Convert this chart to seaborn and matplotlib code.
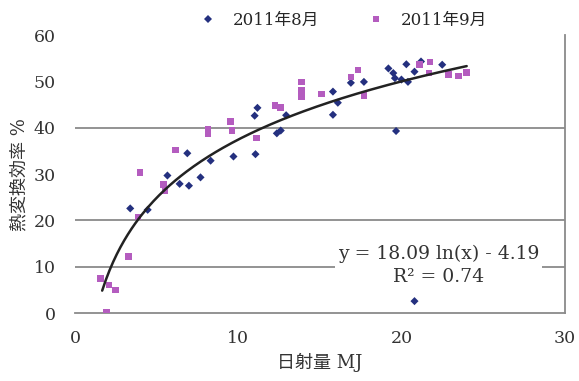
import numpy as np
import pandas as pd
import seaborn as sns
import matplotlib
matplotlib.use("Agg")
import matplotlib.pyplot as plt

# 2011年8月 (x: 日射量 MJ, y: 熱変換効率 %)
aug_x = [3.37, 4.44, 5.65, 6.87, 6.4, 6.97, 7.68, 8.3, 9.7, 11.05, 11.0, 11.17,
         12.36, 12.6, 12.93, 15.8, 16.1, 15.8, 16.9, 17.7, 19.2, 19.5, 19.6,
         20.0, 20.4, 20.3, 20.8, 21.2, 22.5, 19.67, 20.8]
aug_y = [22.6, 22.3, 29.7, 34.5, 27.9, 27.5, 29.3, 32.9, 33.8, 34.3, 42.6, 44.3,
         38.8, 39.4, 42.7, 47.8, 45.4, 42.8, 49.7, 49.9, 52.8, 51.8, 50.7,
         50.4, 49.9, 53.7, 52.1, 54.3, 53.6, 39.3, 2.6]

# 2011年9月
sep_x = [6.16, 3.98, 5.41, 5.5, 3.84, 3.27, 1.56, 2.06, 2.48, 1.92, 8.14, 8.14,
         9.52, 9.6, 11.1, 12.26, 12.58, 13.88, 13.88, 13.88, 15.1, 16.9, 17.35,
         17.7, 21.1, 21.75, 21.7, 22.9, 23.5, 24.0]
sep_y = [35.2, 30.3, 27.8, 26.4, 20.8, 12.2, 7.5, 6.1, 5.0, 0.15, 39.7, 38.8,
         41.4, 39.4, 37.8, 44.8, 44.4, 49.9, 48.1, 46.7, 47.3, 51.0, 52.5,
         47.0, 53.6, 54.2, 51.8, 51.5, 51.2, 51.9]

series_names = ["2011年8月", "2011年9月"]

# log trendline shown on the chart: y = a ln(x) + b
fit_a = 18.09
fit_b = -4.19
fit_r2 = 0.74
fit_range = (1.65, 24.0)

x_ticks = [0, 10, 20, 30]
y_ticks = [0, 10, 20, 30, 40, 50, 60]

df = pd.DataFrame({
    "x": aug_x + sep_x,
    "y": aug_y + sep_y,
    "month": [series_names[0]] * len(aug_x) + [series_names[1]] * len(sep_x),
})

sns.set_style("white")
fonts = ["DejaVu Serif", "Noto Sans CJK JP"]
plt.rcParams["font.family"] = fonts

fig, ax = plt.subplots(figsize=(5.79, 3.81), dpi=100)
fig.subplots_adjust(left=0.13, right=0.975, top=0.908, bottom=0.178)

# gridlines (only those visible in the reference)
for g in [10, 20, 40]:
    ax.axhline(g, color="#8a8a8a", lw=1.3, zorder=0)

sns.scatterplot(data=df, x="x", y="y", hue="month", style="month",
                markers={series_names[0]: "D", series_names[1]: "s"},
                palette={series_names[0]: "#24307f", series_names[1]: "#b45cbf"},
                size="month", sizes={series_names[0]: 17, series_names[1]: 22},
                linewidth=0, ax=ax, zorder=3)

fx = np.linspace(fit_range[0], fit_range[1], 200)
sns.lineplot(x=fx, y=fit_a * np.log(fx) + fit_b, color="#222222", lw=1.8,
             ax=ax, zorder=4)

ax.text(22.3, 10.4,
        f"y = {fit_a:.2f} ln(x) - {abs(fit_b):.2f}\nR² = {fit_r2:.2f}",
        ha="center", va="center", fontsize=13.5, color="#333333",
        linespacing=1.35, zorder=5,
        bbox=dict(facecolor="white", edgecolor="none", pad=2))

ax.set_xlim(0, 30)
ax.set_ylim(0, 60)
ax.set_xticks(x_ticks)
ax.set_yticks(y_ticks)
ax.tick_params(axis="x", direction="in", length=5, color="#555555",
               labelsize=12.5, pad=12, labelcolor="#333333")
ax.tick_params(axis="y", length=0, labelsize=12.5, pad=14, labelcolor="#333333")

for side in ["top", "left"]:
    ax.spines[side].set_visible(False)
for side in ["bottom", "right"]:
    ax.spines[side].set_color("#8a8a8a")
    ax.spines[side].set_linewidth(1.3)

ax.set_xlabel("日射量 MJ", fontsize=13, color="#333333", labelpad=4)
ax.set_ylabel("熱変換効率 %", fontsize=13, color="#333333", labelpad=4)

handles, labels = ax.get_legend_handles_labels()
ax.legend(handles[-2:], labels[-2:], loc="lower center",
          bbox_to_anchor=(0.54, 0.985),
          ncol=2, frameon=False, fontsize=12, columnspacing=2.4,
          handletextpad=0.5, markerscale=1.0, borderaxespad=0.2)

fig.savefig("out.png", dpi=100)
